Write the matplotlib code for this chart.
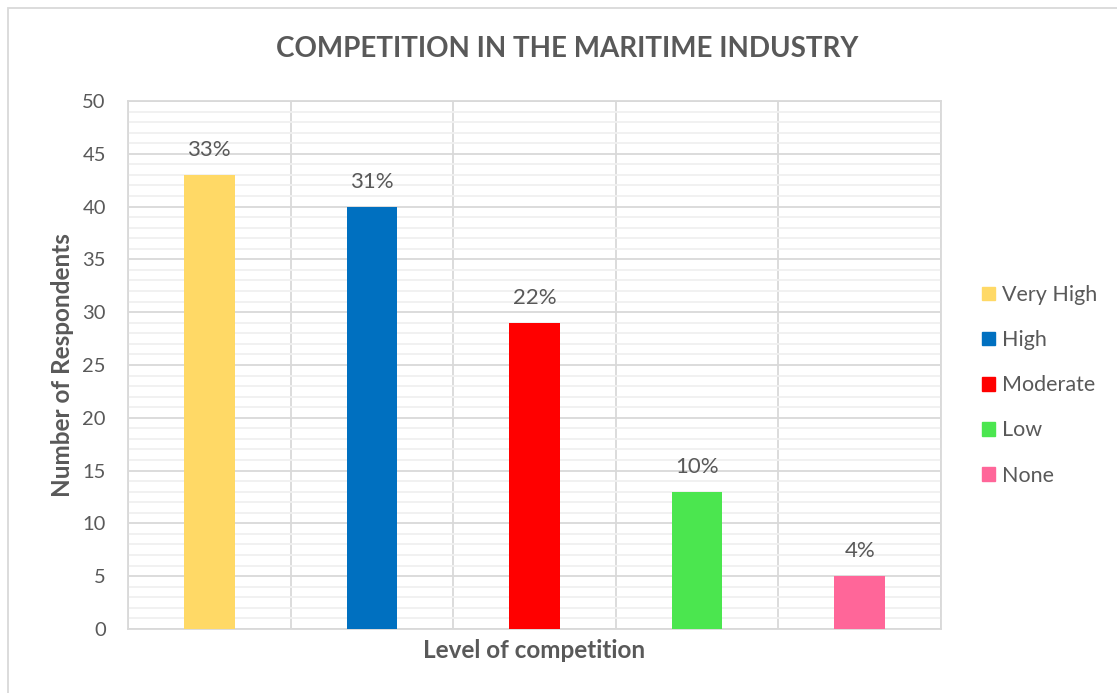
import matplotlib.pyplot as plt
from matplotlib.patches import Rectangle
import numpy as np

plt.rcParams['font.family'] = ['Lato', 'DejaVu Sans']

levels = ['Very High', 'High', 'Moderate', 'Low', 'None']
respondents = [43, 40, 29, 13, 5]
colors = ['#FFD966', '#0070C0', '#FF0000', '#4BE64F', '#FF6699']

text_col = '#595959'
grid_major = '#d9d9d9'
grid_minor = '#f0f0f0'

fig = plt.figure(figsize=(11.17, 6.93), dpi=100)
ax = fig.add_axes([0.1146, 0.0924, 0.7278, 0.7619])

x = np.arange(len(levels))
total = sum(respondents)
bars = ax.bar(x, respondents, width=0.31, color=colors, zorder=3)

for b, v in zip(bars, respondents):
    ax.text(b.get_x() + b.get_width() / 2, v + 1.4, f'{round(v / total * 100)}%',
            ha='center', va='bottom', fontsize=16, color=text_col)

ax.set_xlim(-0.5, len(levels) - 0.5)
ax.set_ylim(0, 50)
ax.set_yticks(range(0, 51, 5))
ax.set_yticks(range(0, 51, 1), minor=True)
ax.set_xticks(np.arange(-0.5, len(levels), 1), minor=True)
ax.set_xticks([])

ax.grid(which='major', axis='y', color=grid_major, lw=1.3, zorder=0)
ax.grid(which='minor', axis='y', color=grid_minor, lw=1.3, zorder=0)
ax.grid(which='minor', axis='x', color=grid_major, lw=1.3, zorder=1)
ax.tick_params(which='both', length=0)
ax.tick_params(axis='y', labelsize=14.5, labelcolor=text_col, pad=16)
for s in ax.spines.values():
    s.set_color(grid_major)
    s.set_linewidth(1.3)

ax.set_ylabel('Number of Respondents', fontsize=17.5, fontweight='bold', color=text_col, labelpad=6)
ax.set_xlabel('Level of competition', fontsize=17.5, fontweight='bold', color=text_col, labelpad=4)
fig.text(0.5075, 0.929, 'COMPETITION IN THE MARITIME INDUSTRY', ha='center', va='center',
         fontsize=20, fontweight='bold', color=text_col)

handles = [Rectangle((0, 0), 1, 1, color=c) for c in colors]
fig.legend(handles, levels, loc='center left', bbox_to_anchor=(0.862, 0.444),
           frameon=False, fontsize=15.5, labelcolor=text_col, handlelength=0.6,
           handleheight=0.6, handletextpad=0.33, labelspacing=1.17)

# outer chart frame
fig.patches.append(Rectangle((8 / 1117, -0.05), 1.2, 1 - 8 / 693 + 0.05, transform=fig.transFigure,
                             fill=False, edgecolor='#d9d9d9', lw=1.3))

fig.savefig('out.png', dpi=100)
